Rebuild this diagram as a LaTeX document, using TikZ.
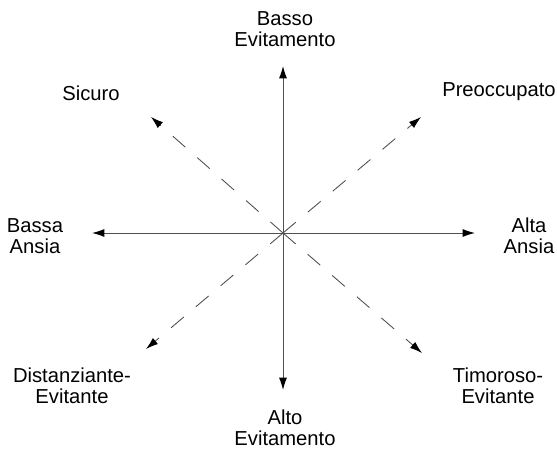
\documentclass[tikz,border=0pt]{standalone}
\usepackage{fontspec}
\setmainfont{Liberation Sans}
\usetikzlibrary{arrows.meta, positioning}
\definecolor{AxisGray}{HTML}{505050}

\begin{document}
\begin{tikzpicture}[
    x=0.02cm, y=-0.02cm,
    lbl/.style={align=center, inner sep=0pt, font=\fontsize{11.5}{12}\selectfont},
    axis/.style={draw=AxisGray, line width=0.5pt,
                 -{Latex[length=7pt, width=4.5pt, black]}},
    diag/.style={axis, dash pattern=on 9.5pt off 9pt}
]
    \useasboundingbox (0,0) rectangle (557,452);

    % centre and arrow ends
    \coordinate (o)  at (283,233);
    \coordinate (n)  at (283,66);
    \coordinate (s)  at (283,390);
    \coordinate (w)  at (92,233);
    \coordinate (e)  at (475,233);
    \coordinate (nw) at (151,117);
    \coordinate (ne) at (421,117);
    \coordinate (sw) at (146,349);
    \coordinate (se) at (422,353);

    % labels
    \node[lbl] (basso)  at (285,29)  {Basso\\Evitamento};
    \node[lbl] (alto)   at (285,428) {Alto\\Evitamento};
    \node[lbl] (bassa)  at (35,236)  {Bassa\\Ansia};
    \node[lbl] (alta)   at (529,236) {Alta\\Ansia};
    \node[lbl] (sicuro) at (91,93)   {Sicuro};
    \node[lbl] (preocc) at (499,92)  {Preoccupato};
    \node[lbl] (dist)   at (72,386)  {Distanziante-\\Evitante};
    \node[lbl] (timor)  at (498,386) {Timoroso-\\Evitante};

    % axes
    \draw[axis] (o) -- (n);
    \draw[axis] (o) -- (s);
    \draw[axis] (o) -- (w);
    \draw[axis] (o) -- (e);

    % diagonals
    \draw[diag] (o) -- (nw);
    \draw[diag] (o) -- (ne);
    \draw[diag] (o) -- (sw);
    \draw[diag] (o) -- (se);
\end{tikzpicture}
\end{document}
